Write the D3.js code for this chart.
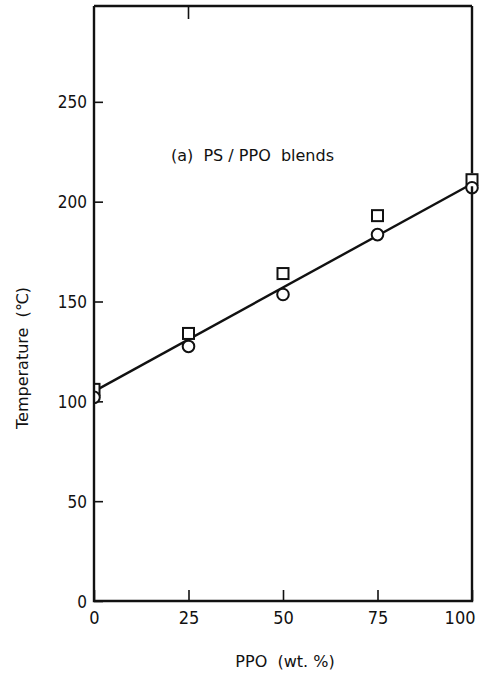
<!DOCTYPE html>
<html>
<head>
<meta charset="utf-8">
<script src="https://cdn.jsdelivr.net/npm/d3@7"></script>
<style>
  html, body { margin: 0; padding: 0; background: #fff; }
  svg { display: block; }
  text { fill: #111; white-space: pre; }
</style>
</head>
<body>
<div id="chart"></div>
<script>
// PPO content (wt. %) of the PS / PPO blends
const ppoContent = [0, 25, 50, 75, 100];
// Transition temperatures (℃) for the two measurement series
const squareSeries = [106, 134, 164, 193, 211];
const circleSeries = [102, 127.5, 153.5, 183.5, 207];
// Linear fit drawn through both series
const fitLine = [{ x: 0, y: 105 }, { x: 100, y: 209 }];

const xTicks = [0, 25, 50, 75, 100];
const yTicks = [0, 50, 100, 150, 200, 250];
const topTicks = [25];

const W = 482, H = 687;
const margin = { left: 94, right: 10, top: 6, bottom: 86 };

const svg = d3.select("#chart").append("svg")
  .attr("width", W).attr("height", H);

const x = d3.scaleLinear().domain([0, 100]).range([margin.left, W - margin.right]);
const y = d3.scaleLinear().domain([0, 298]).range([H - margin.bottom, margin.top]);

const tickFont = "'DejaVu Sans Condensed', 'Liberation Sans Narrow', 'Liberation Sans', Arial, sans-serif";
const titleFont = "'DejaVu Sans', 'Liberation Sans', Arial, sans-serif";

// Axes with inward ticks
const xAxis = svg.append("g")
  .attr("transform", `translate(0,${y(0)})`)
  .call(d3.axisBottom(x).tickValues(xTicks).tickSizeInner(-11).tickSizeOuter(0).tickPadding(10));
const yAxis = svg.append("g")
  .attr("transform", `translate(${x(0)},0)`)
  .call(d3.axisLeft(y).tickValues(yTicks).tickSizeInner(-9).tickSizeOuter(0).tickPadding(7));

[xAxis, yAxis].forEach(g => {
  g.select(".domain").remove();
  g.selectAll(".tick line").attr("stroke", "#111").attr("stroke-width", 1.6);
  g.selectAll(".tick text").attr("font-family", tickFont).attr("fill", "#111");
});
xAxis.selectAll(".tick text").attr("font-size", 18)
  .filter(d => d === 100).attr("text-anchor", "end").attr("dx", 3);
yAxis.selectAll(".tick text").attr("font-size", 17).attr("dy", "0.36em");

// Top ticks
svg.append("g").selectAll("line").data(topTicks).join("line")
  .attr("x1", d => x(d)).attr("x2", d => x(d))
  .attr("y1", y.range()[1]).attr("y2", y.range()[1] + 13)
  .attr("stroke", "#111").attr("stroke-width", 1.6);

// Markers at 0 wt. % are cut by the left axis
svg.append("clipPath").attr("id", "plot-clip")
  .append("rect")
  .attr("x", x(0)).attr("y", 0)
  .attr("width", W - x(0)).attr("height", H);

// Fit line
svg.append("path")
  .datum(fitLine)
  .attr("d", d3.line().x(d => x(d.x)).y(d => y(d.y)))
  .attr("fill", "none").attr("stroke", "#111").attr("stroke-width", 2.4);

const marks = svg.append("g").attr("clip-path", "url(#plot-clip)");

// Square markers
const sq = 11;
marks.append("g").selectAll("rect").data(ppoContent.map((p, i) => ({ p, v: squareSeries[i] })))
  .join("rect")
  .attr("x", d => x(d.p) - sq / 2).attr("y", d => y(d.v) - sq / 2)
  .attr("width", sq).attr("height", sq)
  .attr("fill", "#fff").attr("stroke", "#111").attr("stroke-width", 2);

// Circle markers
marks.append("g").selectAll("circle").data(ppoContent.map((p, i) => ({ p, v: circleSeries[i] })))
  .join("circle")
  .attr("cx", d => x(d.p)).attr("cy", d => y(d.v)).attr("r", 5.8)
  .attr("fill", "#fff").attr("stroke", "#111").attr("stroke-width", 2);

// Frame (right side interrupted where the 100 wt. % markers sit)
svg.append("path")
  .attr("d", `M${x(0)},${y.range()[1]}H${x(100)}M${x(0)},${y.range()[1]}V${y(0)}H${x(100)}V${y(squareSeries[4]) + sq / 2 + 1}M${x(100)},${y.range()[1]}V${y(squareSeries[4]) - sq / 2 - 1}`)
  .attr("fill", "none").attr("stroke", "#111").attr("stroke-width", 2.4);

// Labels
svg.append("text")
  .attr("x", 171).attr("y", 161)
  .attr("font-family", titleFont).attr("font-size", 16)
  .text("(a)  PS / PPO  blends");

svg.append("text")
  .attr("x", 285).attr("y", 667).attr("text-anchor", "middle")
  .attr("font-family", titleFont).attr("font-size", 16)
  .text("PPO  (wt. %)");

svg.append("text")
  .attr("transform", `translate(28,358) rotate(-90)`)
  .attr("text-anchor", "middle")
  .attr("font-family", titleFont).attr("font-size", 16)
  .text("Temperature  (℃)");
</script>
</body>
</html>
